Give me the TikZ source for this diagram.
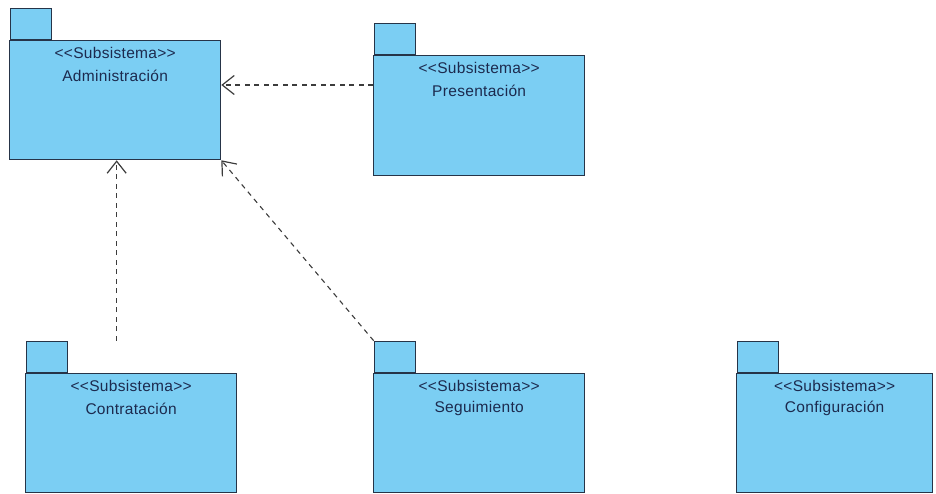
\documentclass[tikz,border=0pt]{standalone}
\usepackage{fontspec}
\setmainfont{Liberation Sans}[Ligatures=TeXOff, LetterSpace=2]
\usetikzlibrary{arrows.meta}

\definecolor{pkgfill}{RGB}{123,206,243}
\definecolor{pkgdraw}{RGB}{38,52,72}
\definecolor{pkgtext}{RGB}{28,42,78}
\definecolor{deptext}{RGB}{60,60,60}

\tikzset{
  pkgbody/.style={draw=pkgdraw, fill=pkgfill, line width=1.3pt, inner sep=0pt, anchor=north west},
  pkgtab/.style={draw=pkgdraw, fill=pkgfill, line width=1.3pt, inner sep=0pt,
                 minimum width=41pt, minimum height=31pt, anchor=south west},
  pkglabel/.style={text=pkgtext, font=\fontsize{15.5}{18}\selectfont, inner sep=0pt},
  dep/.style={draw=deptext, line width=1.1pt, dash pattern=on 5pt off 4.5pt,
              -{Straight Barb[length=12pt,width=19pt,line width=1.2pt]}}
}

% \umlpkg{name}{left}{top}{width}{height}{label}
\newcommand{\umlpkg}[6]{%
  \node[pkgbody, minimum width=#4pt, minimum height=#5pt] (#1) at (#2,#3) {};
  \node[pkgtab] (#1tab) at ([xshift=0.65pt]#1.north west) {};
  \node[pkglabel] (#1st) at ([yshift=-13pt]#1.north) {<<Subsistema>>};
  \node[pkglabel] (#1nm) at ([yshift=-35.5pt]#1.north) {#6};
}

\begin{document}
\begin{tikzpicture}[x=1pt, y=-1pt]
  \useasboundingbox (0,0) rectangle (936,494);

  \umlpkg{adm}{9}{40}{211}{119}{Administración}
  \umlpkg{pre}{373}{55}{211}{120}{Presentación}
  \umlpkg{con}{25}{373}{211}{119}{Contratación}
  \umlpkg{seg}{373}{373}{211}{119}{Seguimiento}
  \umlpkg{cfg}{736}{373}{196}{119}{Configuración}

  % dependencies on Administración
  \coordinate (preout) at ([yshift=-30pt]pre.north west);
  \draw[dep] (preout) -- (adm.east |- preout);

  \coordinate (conout) at ([xshift=91pt]contab.north west);
  \draw[dep] (conout) -- (adm.south -| conout);

  \draw[dep] (segtab.north west) -- (adm.south east);
\end{tikzpicture}
\end{document}
